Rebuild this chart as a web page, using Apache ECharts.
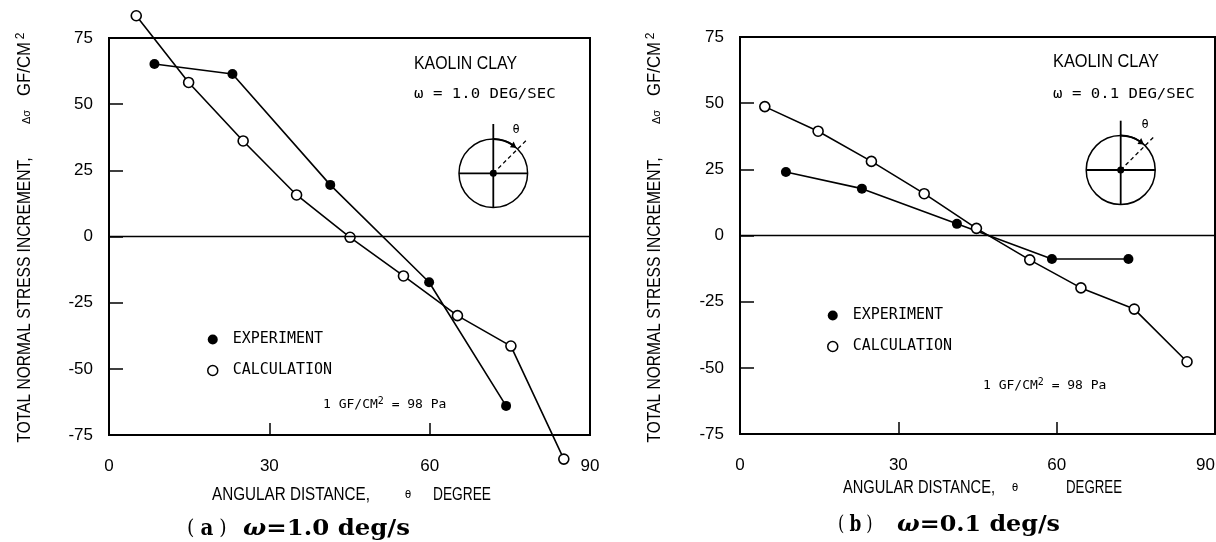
<!DOCTYPE html>
<html><head><meta charset="utf-8">
<script src="https://cdn.jsdelivr.net/npm/echarts@6.0.0/dist/echarts.min.js"></script>
<style>html,body{margin:0;padding:0;background:#fff}#c{width:1216px;height:542px}</style>
</head><body><div id="c"></div>
<script>
// ---- data ----
const xTickValues = [0, 30, 60, 90];
const yTickValues = [75, 50, 25, 0, -25, -50, -75];

// (a) omega = 1.0 deg/s
const angleExpA   = [8.5, 23.1, 41.4, 59.9, 74.3];
const stressExpA  = [65.2, 61.4, 19.5, -17.3, -64.0];
const angleCalcA  = [5.1, 14.9, 25.1, 35.1, 45.1, 55.1, 65.2, 75.2, 85.1];
const stressCalcA = [83.4, 58.2, 36.1, 15.7, -0.3, -14.9, -29.9, -41.4, -84.1];

// (b) omega = 0.1 deg/s
const angleExpB   = [8.7, 23.1, 41.1, 59.1, 73.6];
const stressExpB  = [24.0, 17.7, 4.4, -8.9, -8.9];
const angleCalcB  = [4.7, 14.8, 24.9, 34.9, 44.8, 54.9, 64.6, 74.7, 84.7];
const stressCalcB = [48.7, 39.4, 28.0, 15.8, 2.7, -9.2, -19.8, -27.8, -47.7];

const zip = (xs, ys) => xs.map((x, i) => [x, ys[i]]);

const SANS = '"Liberation Sans", Arial, sans-serif';
const MONO = '"DejaVu Sans Mono", "Liberation Mono", monospace';
const SERIF = '"DejaVu Serif", "Liberation Serif", serif';

const mctx = document.createElement('canvas').getContext('2d');
function measure(text, size, family, weight, style) {
  mctx.font = (style || 'normal') + ' ' + (weight || 'normal') + ' ' + size + 'px ' + family;
  return mctx.measureText(text).width;
}
// text squeezed/stretched to a given width (the reference uses a narrow plotter font)
function fitText(x, y, text, size, family, width, opts) {
  opts = opts || {};
  const w = measure(text, size, family, opts.weight, opts.fontStyle);
  return {type: 'text', x: x, y: y, rotation: opts.rotation || 0, scaleX: width / w,
    style: {text: text, fontFamily: family, fontSize: size, fontWeight: opts.weight || 'normal',
      fontStyle: opts.fontStyle || 'normal', fill: '#000',
      align: opts.align || 'left', verticalAlign: 'middle'}};
}
function txt(x, y, text, family, size, extra) {
  return Object.assign({type: 'text', x: x, y: y,
    style: {text: text, fontFamily: family, fontSize: size, fill: '#000', verticalAlign: 'middle'}}, extra || {});
}

function xAxisDef(gi, alignMax) {
  return {
    gridIndex: gi, type: 'value', min: 0, max: 90, interval: 30,
    axisLine: {show: true, onZero: false, lineStyle: {color: '#000', width: 2}},
    axisTick: {show: true, inside: true, length: 12, lineStyle: {color: '#000', width: 1.5}},
    axisLabel: {color: '#000', fontFamily: SANS, fontSize: 17, margin: 23,
      alignMaxLabel: alignMax || null,
      formatter: v => xTickValues.indexOf(v) >= 0 ? String(v) : ''},
    splitLine: {show: false}
  };
}
function yAxisDef(gi) {
  return {
    gridIndex: gi, type: 'value', min: -75, max: 75, interval: 25,
    axisLine: {show: true, lineStyle: {color: '#000', width: 2}},
    axisTick: {show: true, inside: true, length: 14, lineStyle: {color: '#000', width: 1.5}},
    axisLabel: {color: '#000', fontFamily: SANS, fontSize: 17, margin: 16,
      formatter: v => yTickValues.indexOf(v) >= 0 ? String(v) : ''},
    splitLine: {show: false}
  };
}
function expSeries(gi, data) {
  return {
    name: 'EXPERIMENT', type: 'line', xAxisIndex: gi, yAxisIndex: gi, data: data,
    clip: false, symbol: 'circle', symbolSize: 10, z: 3,
    itemStyle: {color: '#000'}, lineStyle: {color: '#000', width: 1.6},
    markLine: {silent: true, symbol: 'none', label: {show: false},
      lineStyle: {color: '#000', width: 1.3, type: 'solid'}, data: [{yAxis: 0}]}
  };
}
function calcSeries(gi, data) {
  return {
    name: 'CALCULATION', type: 'line', xAxisIndex: gi, yAxisIndex: gi, data: data,
    clip: false, symbol: 'circle', symbolSize: 10, z: 4,
    itemStyle: {color: '#fff', borderColor: '#000', borderWidth: 1.6},
    lineStyle: {color: '#000', width: 1.6}
  };
}
function legendDef(left, top) {
  return {
    left: left, top: top, orient: 'vertical', itemGap: 16, itemWidth: 30, itemHeight: 10,
    icon: 'circle', selectedMode: false,
    textStyle: {fontFamily: MONO, fontSize: 15, color: '#000'},
    data: [
      {name: 'EXPERIMENT', itemStyle: {color: '#000', borderWidth: 0}},
      {name: 'CALCULATION', itemStyle: {color: '#fff', borderColor: '#000', borderWidth: 1.5}}
    ]
  };
}
function diagram(cx, cy, r, topY, thetaX, thetaY) {
  const a0 = -Math.PI / 2, a1 = -Math.PI / 2 + 0.62;
  const tip = -Math.PI / 2 + 0.74;
  const px = a => cx + r * Math.cos(a), py = a => cy + r * Math.sin(a);
  const ang = Math.PI / 4;
  const dl = r * 1.42;
  return [
    {type: 'circle', shape: {cx: cx, cy: cy, r: r}, style: {fill: 'none', stroke: '#000', lineWidth: 1.5}},
    {type: 'line', shape: {x1: cx, y1: topY, x2: cx, y2: cy + r}, style: {stroke: '#000', lineWidth: 1.8}},
    {type: 'line', shape: {x1: cx - r, y1: cy, x2: cx + r, y2: cy}, style: {stroke: '#000', lineWidth: 1.8}},
    {type: 'line', shape: {x1: cx, y1: cy, x2: cx + dl * Math.sin(ang), y2: cy - dl * Math.cos(ang)},
      style: {stroke: '#000', lineWidth: 1.3, lineDash: [4, 3]}},
    {type: 'arc', shape: {cx: cx, cy: cy, r: r, startAngle: a0, endAngle: a1, clockwise: true},
      style: {fill: 'none', stroke: '#000', lineWidth: 1.8}},
    {type: 'polygon', shape: {points: [
      [px(tip), py(tip)],
      [cx + (r - 3.5) * Math.cos(a1 - 0.05), cy + (r - 3.5) * Math.sin(a1 - 0.05)],
      [cx + (r + 3.5) * Math.cos(a1 - 0.05), cy + (r + 3.5) * Math.sin(a1 - 0.05)]
    ]}, style: {fill: '#000'}},
    {type: 'circle', shape: {cx: cx, cy: cy, r: 3.5}, style: {fill: '#000'}},
    txt(thetaX, thetaY, 'θ', MONO, 12, {style: {text: 'θ', fontFamily: MONO, fontSize: 12, fill: '#000', align: 'center', verticalAlign: 'middle'}})
  ];
}
function yTitle(x) {
  const R = Math.PI / 2;
  return [
    fitText(x, 300, 'TOTAL NORMAL STRESS INCREMENT,', 19, SANS, 285, {rotation: R, align: 'center'}),
    txt(x + 2, 117, 'Δσ', SANS, 11, {rotation: R, style: {text: 'Δσ', fontFamily: SANS, fontSize: 11, fill: '#000', align: 'center', verticalAlign: 'middle'}}),
    fitText(x, 69, 'GF/CM', 19, SANS, 54, {rotation: R, align: 'center'}),
    txt(x - 4, 36, '2', SANS, 12, {rotation: R, style: {text: '2', fontFamily: SANS, fontSize: 12, fill: '#000', align: 'center', verticalAlign: 'middle'}})
  ];
}
function xTitle(x0, y, w1, thetaX, xDeg, w2) {
  return [
    fitText(x0, y, 'ANGULAR DISTANCE,', 19, SANS, w1),
    txt(thetaX, y, 'θ', MONO, 11, {style: {text: 'θ', fontFamily: MONO, fontSize: 11, fill: '#000', align: 'center', verticalAlign: 'middle'}}),
    fitText(xDeg, y, 'DEGREE', 19, SANS, w2)
  ];
}
function caption(xp, wp, xw, ww, y, letter, omega) {
  const rich = {
    p: {fontFamily: SERIF, fontSize: 21, fill: '#000'},
    b: {fontFamily: SERIF, fontSize: 22, fontWeight: 'bold', fill: '#000'},
    w: {fontFamily: SERIF, fontSize: 22, fontWeight: 'bold', fontStyle: 'italic', fill: '#000'}
  };
  const wParen = measure('( ', 21, SERIF) * 2 + measure(letter, 22, SERIF, 'bold') + measure(' ', 22, SERIF);
  const wOm = measure('ω', 22, SERIF, 'bold', 'italic') + measure('=' + omega + ' deg/s', 22, SERIF, 'bold');
  return [
    {type: 'text', x: xp, y: y, scaleX: wp / wParen, style: {text: '{p|( }{b|' + letter + '}{p| )}',
      rich: rich, fill: '#000', verticalAlign: 'middle'}},
    {type: 'text', x: xw, y: y, scaleX: ww / wOm, style: {text: '{w|ω}{b|=' + omega + ' deg/s}',
      rich: rich, fill: '#000', verticalAlign: 'middle'}}
  ];
}
const gfRich = {
  a: {fontFamily: MONO, fontSize: 13, fill: '#000'},
  s: {fontFamily: MONO, fontSize: 10, fill: '#000', verticalAlign: 'top', padding: [0, 0, 8, 0]}
};

const chart = echarts.init(document.getElementById('c'), null, {renderer: 'canvas'});
chart.setOption({
  backgroundColor: '#fff',
  animation: false,
  grid: [
    {left: 109, top: 38, width: 481, height: 397, show: true, borderColor: '#000', borderWidth: 2,
      backgroundColor: 'transparent', containLabel: false, outerBoundsMode: 'none'},
    {left: 740, top: 37, width: 475, height: 397, show: true, borderColor: '#000', borderWidth: 2,
      backgroundColor: 'transparent', containLabel: false, outerBoundsMode: 'none'}
  ],
  xAxis: [xAxisDef(0), xAxisDef(1, 'right')],
  yAxis: [yAxisDef(0), yAxisDef(1)],
  legend: [legendDef(202, 327), legendDef(822, 303)],
  series: [
    expSeries(0, zip(angleExpA, stressExpA)),
    calcSeries(0, zip(angleCalcA, stressCalcA)),
    expSeries(1, zip(angleExpB, stressExpB)),
    calcSeries(1, zip(angleCalcB, stressCalcB))
  ],
  graphic: [].concat(
    diagram(493.3, 173.3, 34.3, 124, 516, 130),
    diagram(1120.7, 170, 34.5, 120.7, 1145, 125),
    yTitle(25), yTitle(655),
    xTitle(212, 495, 158, 408, 433, 58),
    xTitle(843, 488, 152, 1015, 1066, 56),
    caption(187, 46, 243, 167, 529, 'a', '1.0'),
    caption(838, 40, 897, 163, 525, 'b', '0.1'),
    [
      fitText(414, 64, 'KAOLIN CLAY', 19, SANS, 103),
      txt(414, 94, 'ω = 1.0 DEG/SEC', MONO, 14, {scaleX: 1.12}),
      {type: 'text', x: 323, y: 405, style: {text: '{a|1 GF/CM}{s|2}{a| = 98 Pa}', rich: gfRich, fill: '#000', verticalAlign: 'middle'}},
      fitText(1053, 62, 'KAOLIN CLAY', 19, SANS, 106),
      txt(1053, 94, 'ω = 0.1 DEG/SEC', MONO, 14, {scaleX: 1.12}),
      {type: 'text', x: 983, y: 386, style: {text: '{a|1 GF/CM}{s|2}{a| = 98 Pa}', rich: gfRich, fill: '#000', verticalAlign: 'middle'}}
    ]
  )
});
</script>
</body></html>
